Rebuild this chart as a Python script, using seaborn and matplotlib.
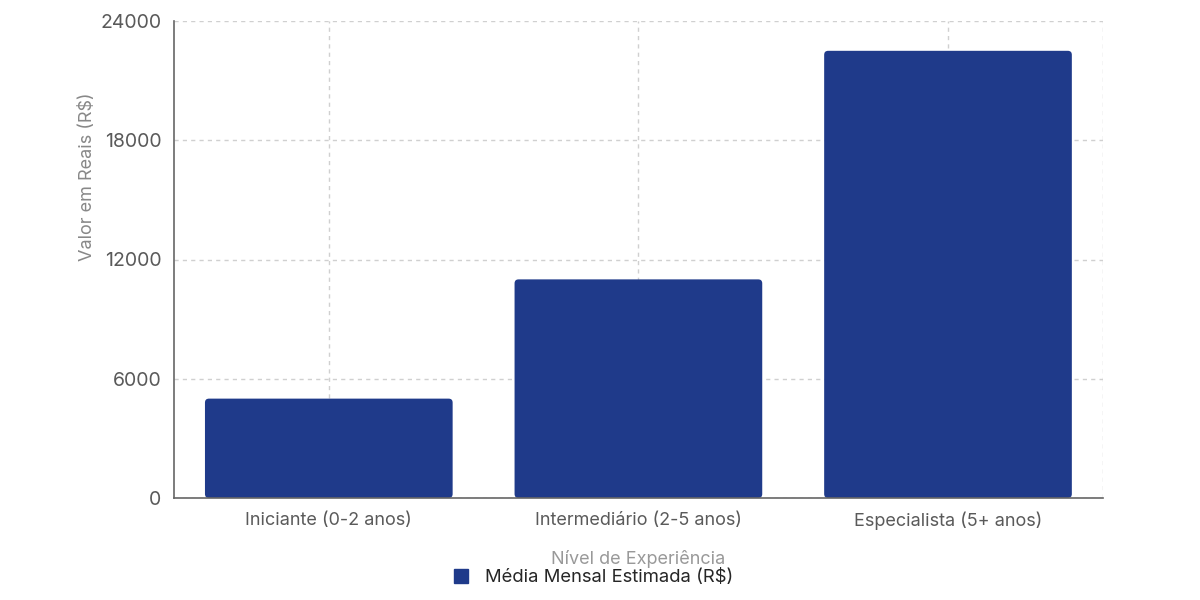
import numpy as np
import pandas as pd
import matplotlib
matplotlib.use("Agg")
import matplotlib.pyplot as plt
import seaborn as sns
from matplotlib.lines import Line2D
from matplotlib.patches import FancyBboxPatch

# ---- data ----
NIVEIS = ["Iniciante (0-2 anos)", "Intermediário (2-5 anos)", "Especialista (5+ anos)"]
MEDIA_MENSAL = [5000, 11000, 22500]
Y_TICKS = [0, 6000, 12000, 18000, 24000]

SERIES_NAME = "Média Mensal Estimada (R$)"
BAR_COLOR = "#1f3a8a"
TEXT_GRAY = "#5a5a5a"

sns.set_style("white")
plt.rcParams["font.family"] = ["Inter", "DejaVu Sans"]

df = pd.DataFrame({"nivel": NIVEIS, "valor": MEDIA_MENSAL})

fig, ax = plt.subplots(figsize=(12, 6), dpi=100)
fig.subplots_adjust(left=0.145, right=0.919, top=0.965, bottom=0.17)

sns.barplot(data=df, x="nivel", y="valor", color=BAR_COLOR, saturation=1,
            width=0.8, ax=ax, zorder=3)

ax.set_ylim(0, 24000)
ax.set_xlim(-0.5, len(NIVEIS) - 0.5)
ax.set_yticks(Y_TICKS)
ax.set_yticklabels([str(t) for t in Y_TICKS])

# swap the square bars for slightly rounded ones (same geometry)
fig.canvas.draw()
bbox = ax.get_window_extent()
x_per_px = (len(NIVEIS)) / bbox.width
y_per_px = 24000 / bbox.height
for p in list(ax.patches):
    x, y, w, h = p.get_x(), p.get_y(), p.get_width(), p.get_height()
    rounded = FancyBboxPatch((x, y), w, h,
                             boxstyle=f"round,pad=0,rounding_size={4 * x_per_px}",
                             mutation_aspect=y_per_px / x_per_px,
                             facecolor=BAR_COLOR, edgecolor="none", zorder=3)
    p.remove()
    ax.add_patch(rounded)

# dashed grid, including top and right frame lines
dash = (0, (3, 3))
ax.grid(True, axis="both", linestyle=dash, color="#d0d0d0", linewidth=1, zorder=0)
ax.axvline(len(NIVEIS) - 0.5, linestyle=dash, color="#d0d0d0", linewidth=1, zorder=0)

for side in ["top", "right"]:
    ax.spines[side].set_visible(False)
for side in ["left", "bottom"]:
    ax.spines[side].set_color("#666666")
    ax.spines[side].set_linewidth(1.2)
    ax.spines[side].set_zorder(4)

ax.tick_params(axis="x", direction="out", length=6, width=1.2, color="#666666",
               labelsize=13, labelcolor=TEXT_GRAY, pad=4)
ax.tick_params(axis="y", direction="out", length=6, width=1.2, color="#666666",
               labelsize=14, labelcolor=TEXT_GRAY, pad=3)

ax.set_ylabel("Valor em Reais (R$)", fontsize=13, color="#888888")
ax.yaxis.set_label_coords(-0.084, 0.673)
ax.set_xlabel("Nível de Experiência", fontsize=13, color="#999999", labelpad=14)

handle = Line2D([], [], marker="s", linestyle="none", markersize=10,
                markerfacecolor=BAR_COLOR, markeredgecolor=BAR_COLOR)
fig.legend([handle], [SERIES_NAME], loc="lower center", bbox_to_anchor=(0.49, -0.005),
           frameon=False, fontsize=13.3, handletextpad=0.3)

fig.savefig("out.png", dpi=100)
